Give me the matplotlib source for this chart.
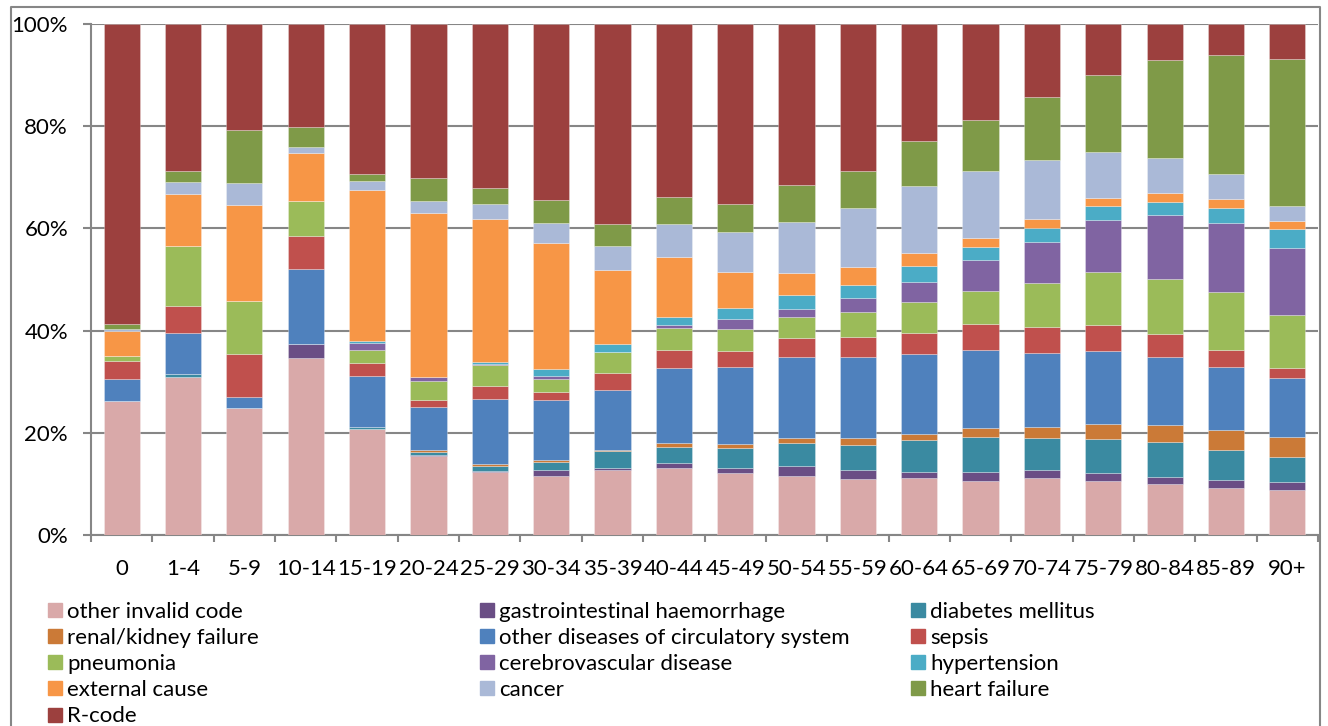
import numpy as np
import matplotlib.pyplot as plt
from matplotlib.lines import Line2D

plt.rcParams['font.family'] = ['Lato', 'DejaVu Sans']

age_groups = ['0', '1-4', '5-9', '10-14', '15-19', '20-24', '25-29', '30-34', '35-39', '40-44',
              '45-49', '50-54', '55-59', '60-64', '65-69', '70-74', '75-79', '80-84', '85-89', '90+']

# share of deaths (%) per cause, bottom of the stack first
other_invalid = [26.3, 30.9, 24.8, 34.7, 20.7, 15.4, 12.3, 11.5, 12.7, 13.2,
                 12.1, 11.6, 11.0, 11.1, 10.6, 11.2, 10.6, 9.9, 9.1, 8.8]
gi_haemorrhage = [0, 0, 0, 2.6, 0, 0.2, 0.2, 1.3, 0.5, 0.8,
                  1.1, 1.9, 1.7, 1.3, 1.7, 1.5, 1.5, 1.5, 1.6, 1.5]
diabetes = [0, 0.6, 0, 0, 0.4, 0.7, 1.1, 1.5, 3.2, 3.2,
            3.8, 4.5, 5.0, 6.1, 6.8, 6.2, 6.6, 6.8, 6.0, 4.9]
renal = [0, 0, 0, 0, 0, 0.3, 0.3, 0.4, 0.3, 0.8,
         0.8, 0.9, 1.2, 1.3, 1.8, 2.3, 3.0, 3.3, 3.8, 3.9]
other_circ = [4.3, 8.0, 2.3, 14.7, 10.0, 8.4, 12.7, 11.7, 11.7, 14.7,
              15.0, 16.0, 15.9, 15.6, 15.4, 14.4, 14.3, 13.3, 12.3, 11.6]
sepsis = [3.5, 5.4, 8.3, 6.6, 2.6, 1.5, 2.6, 1.5, 3.4, 3.6,
          3.2, 3.6, 4.0, 4.1, 5.0, 5.1, 5.1, 4.6, 3.4, 2.0]
pneumonia = [0.9, 11.7, 10.4, 6.7, 2.6, 3.7, 4.1, 2.6, 4.0, 4.3,
             4.3, 4.1, 4.8, 6.0, 6.5, 8.7, 10.4, 10.7, 11.3, 10.3]
cerebrovascular = [0, 0, 0, 0, 1.3, 0.8, 0.2, 0.7, 0.1, 0.4,
                   1.9, 1.7, 2.7, 4.1, 6.1, 8.0, 10.2, 12.5, 13.6, 13.2]
hypertension = [0, 0, 0, 0, 0.4, 0, 0.4, 1.2, 1.4, 1.6,
                2.2, 2.6, 2.7, 3.1, 2.5, 2.7, 2.7, 2.6, 2.8, 3.7]
external = [4.9, 10.1, 18.7, 9.4, 29.5, 32.0, 27.9, 24.8, 14.6, 11.8,
            7.0, 4.4, 3.5, 2.4, 1.8, 1.8, 1.5, 1.7, 1.8, 1.6]
cancer = [0.4, 2.3, 4.3, 1.3, 1.7, 2.3, 3.0, 3.9, 4.7, 6.5,
          7.9, 10.0, 11.5, 13.2, 13.0, 11.4, 9.0, 6.8, 4.9, 2.9]
heart_failure = [0.9, 2.3, 10.5, 3.9, 1.4, 4.5, 3.1, 4.4, 4.2, 5.2,
                 5.5, 7.1, 7.3, 8.8, 10.0, 12.4, 15.1, 19.3, 23.3, 28.7]
r_code = [58.8, 28.7, 20.7, 20.1, 29.4, 30.2, 32.1, 34.5, 39.2, 33.9,
          35.2, 31.6, 28.7, 22.9, 18.8, 14.3, 10.0, 7.0, 6.1, 6.9]

series = [
    ('other invalid code', other_invalid, '#D9A9A9'),
    ('gastrointestinal haemorrhage', gi_haemorrhage, '#6A4E85'),
    ('diabetes mellitus', diabetes, '#3A8AA1'),
    ('renal/kidney failure', renal, '#CB7A37'),
    ('other diseases of circulatory system', other_circ, '#4F81BD'),
    ('sepsis', sepsis, '#C0504D'),
    ('pneumonia', pneumonia, '#9BBB59'),
    ('cerebrovascular disease', cerebrovascular, '#8064A2'),
    ('hypertension', hypertension, '#4BACC6'),
    ('external cause', external, '#F79646'),
    ('cancer', cancer, '#AAB9D7'),
    ('heart failure', heart_failure, '#7F9A48'),
    ('R-code', r_code, '#9C403E'),
]

fig = plt.figure(figsize=(13.28, 7.26), dpi=100)
ax = fig.add_axes([91 / 1328, 1 - 535 / 726, 1227 / 1328, 511 / 726])

x = np.arange(len(age_groups))
bottom = np.zeros(len(age_groups))
handles = []
for name, vals, col in series:
    vals = np.array(vals, dtype=float)
    ax.bar(x, vals, 0.59, bottom=bottom, color=col, edgecolor=(1, 1, 1, 0.5), linewidth=0.4, zorder=3)
    bottom += vals
    handles.append(Line2D([], [], marker='s', linestyle='', markersize=10, color=col, label=name))

grey = '#868686'
fs = 16
ax.set_xlim(-0.5, len(age_groups) - 0.5)
ax.set_ylim(0, 100)
ax.set_yticks(np.arange(0, 101, 20))
ax.set_yticklabels(['%d%%' % v for v in range(0, 101, 20)], fontsize=fs)
ax.yaxis.grid(True, color=grey, linewidth=1.5, zorder=0)
ax.tick_params(axis='y', length=6, width=1.5, color=grey, pad=10.5)

ax.set_xticks(x)
ax.set_xticklabels(age_groups, fontsize=fs)
ax.set_xticks(np.arange(-0.5, len(age_groups), 1), minor=True)
ax.tick_params(axis='x', which='major', length=0, pad=17.5)
ax.tick_params(axis='x', which='minor', length=5, width=1.5, color=grey)

for s in ['top', 'right']:
    ax.spines[s].set_visible(False)
for s in ['left', 'bottom']:
    ax.spines[s].set_color(grey)
    ax.spines[s].set_linewidth(1.5)

# outer chart border
fig.add_artist(Line2D([11 / 1328, 11 / 1328, 1320 / 1328, 1320 / 1328],
                      [0, 1 - 7 / 726, 1 - 7 / 726, 0],
                      transform=fig.transFigure, color=grey, linewidth=1.5))

# legend: three columns, filled row by row
col_x = [48.5 / 1328, 480.5 / 1328, 911.5 / 1328]
for c in range(3):
    hs = handles[c::3]
    fig.legend(handles=hs, loc='upper left', bbox_to_anchor=(col_x[c], 1 - 601.5 / 726),
               frameon=False, fontsize=fs, handlelength=0.6, handletextpad=0.25,
               labelspacing=0.28, borderpad=0, borderaxespad=0)

fig.savefig('out.png', dpi=100)
